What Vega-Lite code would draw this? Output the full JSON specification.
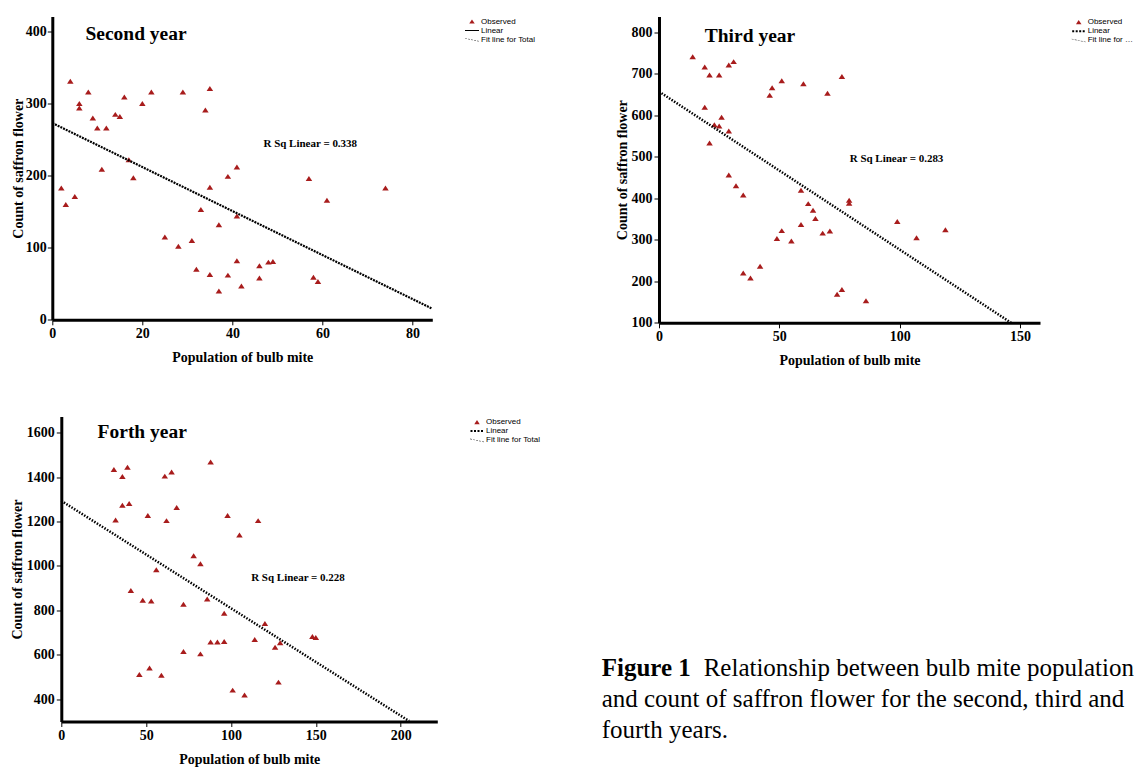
{
  "$schema": "https://vega.github.io/schema/vega-lite/v6.json",
  "padding": {"left": 10.3, "top": 16.5, "right": 0, "bottom": 0},
  "background": "white",
  "config": {
    "view": {"stroke": null},
    "axis": {
      "domainColor": "black", "domainWidth": 3, "tickColor": "black", "tickSize": 5, "tickWidth": 1,
      "grid": false, "labelFont": "Liberation Serif", "labelFontSize": 14, "labelFontWeight": "bold",
      "labelColor": "black", "labelPadding": 2, "labelFlush": false, "labelOverlap": false, "format": "d",
      "titleFont": "Liberation Serif", "titleFontSize": 14, "titleFontWeight": "bold", "titleColor": "black"
    },
    "axisX": {"titlePadding": 10},
    "axisY": {"titlePadding": 1},
    "legend": {
      "title": null, "orient": "none", "symbolSize": 100, "labelFont": "Liberation Sans", "labelFontSize": 8,
      "labelColor": "black", "labelOffset": 4, "rowPadding": 0, "padding": 0, "symbolStrokeWidth": 0
    }
  },
  "datasets": {
    "y2": [
      {"mite": 2, "flower": 183, "series": "Observed"}, {"mite": 3, "flower": 160, "series": "Observed"},
      {"mite": 4, "flower": 331, "series": "Observed"}, {"mite": 5, "flower": 171, "series": "Observed"},
      {"mite": 6, "flower": 300, "series": "Observed"}, {"mite": 6, "flower": 294, "series": "Observed"},
      {"mite": 8, "flower": 316, "series": "Observed"}, {"mite": 9, "flower": 280, "series": "Observed"},
      {"mite": 10, "flower": 266, "series": "Observed"}, {"mite": 12, "flower": 266, "series": "Observed"},
      {"mite": 11, "flower": 209, "series": "Observed"}, {"mite": 14, "flower": 285, "series": "Observed"},
      {"mite": 15, "flower": 282, "series": "Observed"}, {"mite": 16, "flower": 309, "series": "Observed"},
      {"mite": 17, "flower": 222, "series": "Observed"}, {"mite": 18, "flower": 197, "series": "Observed"},
      {"mite": 20, "flower": 300, "series": "Observed"}, {"mite": 22, "flower": 316, "series": "Observed"},
      {"mite": 25, "flower": 115, "series": "Observed"}, {"mite": 28, "flower": 102, "series": "Observed"},
      {"mite": 29, "flower": 316, "series": "Observed"}, {"mite": 31, "flower": 110, "series": "Observed"},
      {"mite": 32, "flower": 70, "series": "Observed"}, {"mite": 33, "flower": 153, "series": "Observed"},
      {"mite": 34, "flower": 291, "series": "Observed"}, {"mite": 35, "flower": 321, "series": "Observed"},
      {"mite": 35, "flower": 184, "series": "Observed"}, {"mite": 35, "flower": 63, "series": "Observed"},
      {"mite": 37, "flower": 132, "series": "Observed"}, {"mite": 37, "flower": 40, "series": "Observed"},
      {"mite": 39, "flower": 199, "series": "Observed"}, {"mite": 39, "flower": 62, "series": "Observed"},
      {"mite": 41, "flower": 212, "series": "Observed"}, {"mite": 41, "flower": 144, "series": "Observed"},
      {"mite": 41, "flower": 82, "series": "Observed"}, {"mite": 42, "flower": 47, "series": "Observed"},
      {"mite": 46, "flower": 75, "series": "Observed"}, {"mite": 46, "flower": 58, "series": "Observed"},
      {"mite": 48, "flower": 80, "series": "Observed"}, {"mite": 49, "flower": 81, "series": "Observed"},
      {"mite": 57, "flower": 196, "series": "Observed"}, {"mite": 58, "flower": 59, "series": "Observed"},
      {"mite": 59, "flower": 53, "series": "Observed"}, {"mite": 61, "flower": 166, "series": "Observed"},
      {"mite": 74, "flower": 183, "series": "Observed"}
    ],
    "y3": [
      {"mite": 14, "flower": 741, "series": "Observed"}, {"mite": 19, "flower": 716, "series": "Observed"},
      {"mite": 21, "flower": 697, "series": "Observed"}, {"mite": 25, "flower": 697, "series": "Observed"},
      {"mite": 29, "flower": 721, "series": "Observed"}, {"mite": 31, "flower": 729, "series": "Observed"},
      {"mite": 19, "flower": 619, "series": "Observed"}, {"mite": 23, "flower": 577, "series": "Observed"},
      {"mite": 25, "flower": 574, "series": "Observed"}, {"mite": 26, "flower": 595, "series": "Observed"},
      {"mite": 29, "flower": 562, "series": "Observed"}, {"mite": 21, "flower": 533, "series": "Observed"},
      {"mite": 29, "flower": 456, "series": "Observed"}, {"mite": 32, "flower": 430, "series": "Observed"},
      {"mite": 35, "flower": 408, "series": "Observed"}, {"mite": 35, "flower": 220, "series": "Observed"},
      {"mite": 38, "flower": 208, "series": "Observed"}, {"mite": 42, "flower": 236, "series": "Observed"},
      {"mite": 46, "flower": 648, "series": "Observed"}, {"mite": 47, "flower": 666, "series": "Observed"},
      {"mite": 51, "flower": 683, "series": "Observed"}, {"mite": 60, "flower": 676, "series": "Observed"},
      {"mite": 70, "flower": 653, "series": "Observed"}, {"mite": 76, "flower": 693, "series": "Observed"},
      {"mite": 49, "flower": 303, "series": "Observed"}, {"mite": 51, "flower": 322, "series": "Observed"},
      {"mite": 55, "flower": 297, "series": "Observed"}, {"mite": 59, "flower": 419, "series": "Observed"},
      {"mite": 59, "flower": 337, "series": "Observed"}, {"mite": 62, "flower": 387, "series": "Observed"},
      {"mite": 64, "flower": 371, "series": "Observed"}, {"mite": 65, "flower": 351, "series": "Observed"},
      {"mite": 68, "flower": 316, "series": "Observed"}, {"mite": 71, "flower": 321, "series": "Observed"},
      {"mite": 74, "flower": 169, "series": "Observed"}, {"mite": 76, "flower": 180, "series": "Observed"},
      {"mite": 79, "flower": 395, "series": "Observed"}, {"mite": 79, "flower": 388, "series": "Observed"},
      {"mite": 86, "flower": 153, "series": "Observed"}, {"mite": 99, "flower": 344, "series": "Observed"},
      {"mite": 107, "flower": 305, "series": "Observed"}, {"mite": 119, "flower": 324, "series": "Observed"}
    ],
    "y4": [
      {"mite": 31, "flower": 1434, "series": "Observed"}, {"mite": 36, "flower": 1402, "series": "Observed"},
      {"mite": 39, "flower": 1444, "series": "Observed"}, {"mite": 36, "flower": 1273, "series": "Observed"},
      {"mite": 40, "flower": 1281, "series": "Observed"}, {"mite": 32, "flower": 1207, "series": "Observed"},
      {"mite": 61, "flower": 1404, "series": "Observed"}, {"mite": 65, "flower": 1423, "series": "Observed"},
      {"mite": 88, "flower": 1467, "series": "Observed"}, {"mite": 68, "flower": 1263, "series": "Observed"},
      {"mite": 51, "flower": 1227, "series": "Observed"}, {"mite": 62, "flower": 1204, "series": "Observed"},
      {"mite": 98, "flower": 1227, "series": "Observed"}, {"mite": 116, "flower": 1204, "series": "Observed"},
      {"mite": 105, "flower": 1139, "series": "Observed"}, {"mite": 78, "flower": 1046, "series": "Observed"},
      {"mite": 82, "flower": 1010, "series": "Observed"}, {"mite": 56, "flower": 983, "series": "Observed"},
      {"mite": 41, "flower": 890, "series": "Observed"}, {"mite": 48, "flower": 846, "series": "Observed"},
      {"mite": 53, "flower": 843, "series": "Observed"}, {"mite": 72, "flower": 828, "series": "Observed"},
      {"mite": 86, "flower": 852, "series": "Observed"}, {"mite": 96, "flower": 788, "series": "Observed"},
      {"mite": 120, "flower": 742, "series": "Observed"}, {"mite": 88, "flower": 658, "series": "Observed"},
      {"mite": 92, "flower": 658, "series": "Observed"}, {"mite": 96, "flower": 661, "series": "Observed"},
      {"mite": 114, "flower": 670, "series": "Observed"}, {"mite": 126, "flower": 635, "series": "Observed"},
      {"mite": 129, "flower": 655, "series": "Observed"}, {"mite": 72, "flower": 616, "series": "Observed"},
      {"mite": 82, "flower": 605, "series": "Observed"}, {"mite": 148, "flower": 683, "series": "Observed"},
      {"mite": 150, "flower": 679, "series": "Observed"}, {"mite": 52, "flower": 541, "series": "Observed"},
      {"mite": 46, "flower": 512, "series": "Observed"}, {"mite": 59, "flower": 509, "series": "Observed"},
      {"mite": 128, "flower": 478, "series": "Observed"}, {"mite": 101, "flower": 442, "series": "Observed"},
      {"mite": 108, "flower": 420, "series": "Observed"}
    ],
    "fit2": [{"mite": 0, "flower": 273}, {"mite": 84.2, "flower": 16}],
    "fit3": [{"mite": 0, "flower": 657}, {"mite": 146.3, "flower": 100}],
    "fit4": [{"mite": 0, "flower": 1293}, {"mite": 205, "flower": 303}],
    "caption": [
      {"line": 1, "part": "label", "text": "Figure 1"},
      {"line": 1, "part": "lead", "text": "Relationship between bulb mite population"},
      {"line": 2, "part": "body", "text": "and count of saffron flower for the second, third and"},
      {"line": 3, "part": "body", "text": "fourth years."}
    ]
  },
  "columns": 1,
  "align": "none",
  "spacing": 48,
  "resolve": {"scale": {"color": "independent", "shape": "independent"}, "legend": {"color": "independent", "shape": "independent"}},
  "concat": [
    {
      "spacing": 226.7,
      "bounds": "flush",
      "resolve": {"scale": {"color": "independent", "shape": "independent"}, "legend": {"color": "independent", "shape": "independent"}},
      "hconcat": [
        {
          "width": 380, "height": 303.3,
          "layer": [
            {
              "data": {"name": "y2"},
              "mark": {"type": "point", "filled": true, "size": 140, "opacity": 1},
              "encoding": {
                "x": {"field": "mite", "type": "quantitative", "scale": {"domain": [0, 84.4], "nice": false, "zero": false}, "axis": {"values": [0, 20, 40, 60, 80], "title": "Population of bulb mite"}},
                "y": {"field": "flower", "type": "quantitative", "scale": {"domain": [0, 420.8], "nice": false, "zero": false}, "axis": {"values": [0, 100, 200, 300, 400], "title": "Count of saffron flower", "titlePadding": 0, "labelPadding": 1}},
                "color": {"field": "series", "type": "nominal", "scale": {"domain": ["Observed", "Linear", "Fit line for Total"], "range": ["#a81c1c", "#000000", "#555555"]}, "legend": {"legendX": 414.7, "legendY": 0}},
                "shape": {"field": "series", "type": "nominal", "scale": {"domain": ["Observed", "Linear", "Fit line for Total"], "range": ["M0,-0.42L0.55,0.42L-0.55,0.42Z", "M-1.4,-0.1H1.4V0.1H-1.4Z", "M-1.4,-0.3l0.4,0.086v0.12l-0.4,-0.086zM-0.8,-0.171l0.4,0.086v0.12l-0.4,-0.086zM-0.2,-0.043l0.4,0.086v0.12l-0.4,-0.086zM0.4,0.086l0.4,0.086v0.12l-0.4,-0.086zM1.0,0.214l0.4,0.086v0.12l-0.4,-0.086z"]}, "legend": {"legendX": 414.7, "legendY": 0}}
              }
            },
            {
              "data": {"name": "fit2"},
              "mark": {"type": "line", "color": "black", "strokeWidth": 2.2, "strokeDash": [2, 1]},
              "encoding": {"x": {"field": "mite", "type": "quantitative"}, "y": {"field": "flower", "type": "quantitative"}}
            },
            {
              "data": {"values": [{"label": "Second year"}]},
              "mark": {"type": "text", "font": "Liberation Serif", "fontSize": 19.5, "fontWeight": "bold", "color": "black"},
              "encoding": {"x": {"datum": 18.6, "type": "quantitative"}, "y": {"datum": 397, "type": "quantitative"}, "text": {"field": "label"}}
            },
            {
              "data": {"values": [{"label": "R Sq Linear = 0.338"}]},
              "mark": {"type": "text", "font": "Liberation Serif", "fontSize": 11, "fontWeight": "bold", "color": "black"},
              "encoding": {"x": {"datum": 57.3, "type": "quantitative"}, "y": {"datum": 243.6, "type": "quantitative"}, "text": {"field": "label"}}
            }
          ]
        },
        {
          "width": 381, "height": 306.3,
          "layer": [
            {
              "data": {"name": "y3"},
              "mark": {"type": "point", "filled": true, "size": 140, "opacity": 1},
              "encoding": {
                "x": {"field": "mite", "type": "quantitative", "scale": {"domain": [0, 158.3], "nice": false, "zero": false}, "axis": {"values": [0, 50, 100, 150], "title": "Population of bulb mite"}},
                "y": {"field": "flower", "type": "quantitative", "scale": {"domain": [100, 837.7], "nice": false, "zero": false}, "axis": {"values": [100, 200, 300, 400, 500, 600, 700, 800], "title": "Count of saffron flower", "titlePadding": 1}},
                "color": {"field": "series", "type": "nominal", "scale": {"domain": ["Observed", "Linear", "Fit line for Total"], "range": ["#a81c1c", "#000000", "#555555"]}, "legend": {"legendX": 414.7, "legendY": 0.7, "labelLimit": 47}},
                "shape": {"field": "series", "type": "nominal", "scale": {"domain": ["Observed", "Linear", "Fit line for Total"], "range": ["M0,-0.42L0.55,0.42L-0.55,0.42Z", "M-1.3,-0.2h0.4v0.4h-0.4zM-0.6,-0.2h0.4v0.4h-0.4zM0.1,-0.2h0.4v0.4h-0.4zM0.8,-0.2h0.4v0.4h-0.4z", "M-1.4,-0.3l0.4,0.086v0.12l-0.4,-0.086zM-0.8,-0.171l0.4,0.086v0.12l-0.4,-0.086zM-0.2,-0.043l0.4,0.086v0.12l-0.4,-0.086zM0.4,0.086l0.4,0.086v0.12l-0.4,-0.086zM1.0,0.214l0.4,0.086v0.12l-0.4,-0.086z"]}, "legend": {"legendX": 414.7, "legendY": 0.7, "labelLimit": 47}}
              }
            },
            {
              "data": {"name": "fit3"},
              "mark": {"type": "line", "color": "black", "strokeWidth": 2.5, "strokeDash": [1.5, 1.5]},
              "encoding": {"x": {"field": "mite", "type": "quantitative"}, "y": {"field": "flower", "type": "quantitative"}}
            },
            {
              "data": {"values": [{"label": "Third year"}]},
              "mark": {"type": "text", "font": "Liberation Serif", "fontSize": 19.5, "fontWeight": "bold", "color": "black"},
              "encoding": {"x": {"datum": 37.8, "type": "quantitative"}, "y": {"datum": 791, "type": "quantitative"}, "text": {"field": "label"}}
            },
            {
              "data": {"values": [{"label": "R Sq Linear = 0.283"}]},
              "mark": {"type": "text", "font": "Liberation Serif", "fontSize": 11, "fontWeight": "bold", "color": "black"},
              "encoding": {"x": {"datum": 98.7, "type": "quantitative"}, "y": {"datum": 495, "type": "quantitative"}, "text": {"field": "label"}}
            }
          ]
        }
      ]
    },
    {
      "spacing": 0,
      "bounds": "flush",
      "resolve": {"scale": {"color": "independent", "shape": "independent"}, "legend": {"color": "independent", "shape": "independent"}},
      "hconcat": [
        {
          "width": 9, "height": 1,
          "data": {"values": []},
          "mark": {"type": "point"}
        },
        {
          "spacing": 164.4,
          "bounds": "flush",
          "resolve": {"scale": {"color": "independent", "shape": "independent"}, "legend": {"color": "independent", "shape": "independent"}},
          "hconcat": [
            {
              "width": 376, "height": 305,
              "layer": [
                {
                  "data": {"name": "y4"},
                  "mark": {"type": "point", "filled": true, "size": 140, "opacity": 1},
                  "encoding": {
                    "x": {"field": "mite", "type": "quantitative", "scale": {"domain": [0, 221.6], "nice": false, "zero": false}, "axis": {"values": [0, 50, 100, 150, 200], "title": "Population of bulb mite"}},
                    "y": {"field": "flower", "type": "quantitative", "scale": {"domain": [301, 1672], "nice": false, "zero": false}, "axis": {"values": [400, 600, 800, 1000, 1200, 1400, 1600], "title": "Count of saffron flower", "titlePadding": 2}},
                    "color": {"field": "series", "type": "nominal", "scale": {"domain": ["Observed", "Linear", "Fit line for Total"], "range": ["#a81c1c", "#000000", "#555555"]}, "legend": {"legendX": 410.7, "legendY": 0.6}},
                    "shape": {"field": "series", "type": "nominal", "scale": {"domain": ["Observed", "Linear", "Fit line for Total"], "range": ["M0,-0.42L0.55,0.42L-0.55,0.42Z", "M-1.3,-0.2h0.4v0.4h-0.4zM-0.6,-0.2h0.4v0.4h-0.4zM0.1,-0.2h0.4v0.4h-0.4zM0.8,-0.2h0.4v0.4h-0.4z", "M-1.4,-0.3l0.4,0.086v0.12l-0.4,-0.086zM-0.8,-0.171l0.4,0.086v0.12l-0.4,-0.086zM-0.2,-0.043l0.4,0.086v0.12l-0.4,-0.086zM0.4,0.086l0.4,0.086v0.12l-0.4,-0.086zM1.0,0.214l0.4,0.086v0.12l-0.4,-0.086z"]}, "legend": {"legendX": 410.7, "legendY": 0.6}}
                  }
                },
                {
                  "data": {"name": "fit4"},
                  "mark": {"type": "line", "color": "black", "strokeWidth": 2.5, "strokeDash": [1.5, 1.5]},
                  "encoding": {"x": {"field": "mite", "type": "quantitative"}, "y": {"field": "flower", "type": "quantitative"}}
                },
                {
                  "data": {"values": [{"label": "Forth year"}]},
                  "mark": {"type": "text", "font": "Liberation Serif", "fontSize": 19.5, "fontWeight": "bold", "color": "black"},
                  "encoding": {"x": {"datum": 47.7, "type": "quantitative"}, "y": {"datum": 1602, "type": "quantitative"}, "text": {"field": "label"}}
                },
                {
                  "data": {"values": [{"label": "R Sq Linear = 0.228"}]},
                  "mark": {"type": "text", "font": "Liberation Serif", "fontSize": 11, "fontWeight": "bold", "color": "black"},
                  "encoding": {"x": {"datum": 139.5, "type": "quantitative"}, "y": {"datum": 945, "type": "quantitative"}, "text": {"field": "label"}}
                }
              ]
            },
            {
              "width": 431, "height": 329,
              "data": {"name": "caption"},
              "encoding": {
                "x": {"datum": 0, "type": "quantitative", "scale": {"domain": [0, 1]}, "axis": null},
                "y": {"field": "line", "type": "quantitative", "scale": {"domain": [-7.106, 3.507], "reverse": true, "nice": false, "zero": false}, "axis": null},
                "text": {"field": "text"}
              },
              "layer": [
                {
                  "transform": [{"filter": "datum.part === 'label'"}],
                  "mark": {"type": "text", "font": "Liberation Serif", "fontSize": 25, "fontWeight": "bold", "align": "left", "baseline": "middle", "color": "black"}
                },
                {
                  "transform": [{"filter": "datum.part === 'lead'"}],
                  "mark": {"type": "text", "font": "Liberation Serif", "fontSize": 25, "align": "left", "baseline": "middle", "color": "black", "dx": 102, "limit": 433, "ellipsis": ""}
                },
                {
                  "transform": [{"filter": "datum.part === 'body'"}],
                  "mark": {"type": "text", "font": "Liberation Serif", "fontSize": 25, "align": "left", "baseline": "middle", "color": "black", "limit": 534, "ellipsis": ""}
                }
              ]
            }
          ]
        }
      ]
    }
  ]
}
